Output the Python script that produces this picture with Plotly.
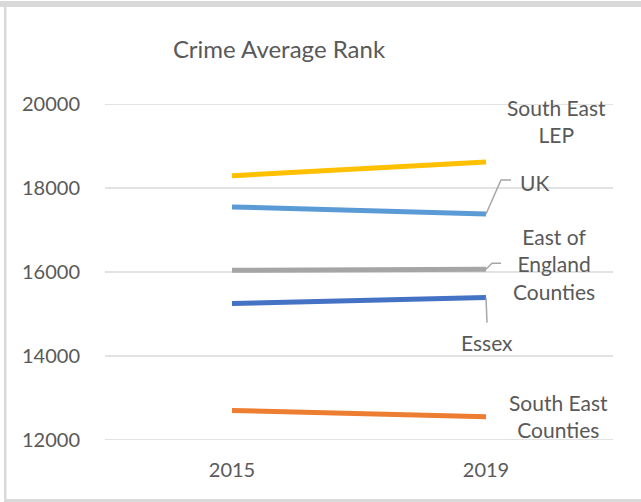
import plotly.graph_objects as go

# Crime average rank by area, 2015 vs 2019
years = ["2015", "2019"]
south_east_lep = [18290, 18620]
uk = [17550, 17380]
east_of_england = [16040, 16065]
essex = [15250, 15390]
south_east_counties = [12705, 12555]

series_names = ["South East LEP", "UK", "East of England Counties", "Essex", "South East Counties"]
series_values = [south_east_lep, uk, east_of_england, essex, south_east_counties]
series_colors = ["#FFC000", "#5B9BD5", "#A5A5A5", "#4472C4", "#ED7D31"]
label_texts = ["South East<br>LEP", "UK", "East of<br>England<br>Counties", "Essex", "South East<br>Counties"]
y_ticks = [12000, 14000, 16000, 18000, 20000]

W, H = 641, 502
L, R, T, B = 105, 28, 104, 62
FONT = "Lato"
GREY = "#595959"

fig = go.Figure()
for name, vals, col in zip(series_names, series_values, series_colors):
    fig.add_trace(go.Scatter(
        x=years, y=vals, mode="lines", name=name,
        line=dict(color=col, width=5), showlegend=False,
    ))

# data labels beside the 2019 end of each line (pixel offsets)
last = len(years) - 1
label_shift = [(70, 41), (48, 32), (68, 5), (1, -45), (72, 1)]
annotations = []
for txt, vals, (dx, dy) in zip(label_texts, series_values, label_shift):
    annotations.append(dict(
        x=last, y=vals[-1], xref="x", yref="y", text=txt,
        showarrow=False, xshift=dx, yshift=dy,
        xanchor="center", yanchor="middle", align="center",
        font=dict(family=FONT, size=21, color=GREY),
    ))

# horizontal gridlines at each y tick
shapes = [
    dict(type="line", xref="paper", yref="y", x0=0, x1=1, y0=v, y1=v,
         line=dict(color="#D9D9D9", width=1.5), layer="below")
    for v in y_ticks
]

# leader lines from line ends to their labels
leader = dict(color="#A6A6A6", width=1.5)
shapes += [
    dict(type="path", xref="x", yref="y", xsizemode="pixel", ysizemode="pixel",
         xanchor=last, yanchor=uk[-1], path="M0,0 L15,34 L25,34", line=leader),
    dict(type="path", xref="x", yref="y", xsizemode="pixel", ysizemode="pixel",
         xanchor=last, yanchor=east_of_england[-1], path="M0,0 L6,6 L15,6", line=leader),
    dict(type="path", xref="x", yref="y", xsizemode="pixel", ysizemode="pixel",
         xanchor=last, yanchor=essex[-1], path="M0,0 L1,-25", line=leader),
]

# chart frame
def px_x(p):
    return (p - L) / (W - L - R)

def px_y(p):
    return (H - B - p) / (H - T - B)

frame = "#D9D9D9"
shapes += [
    dict(type="rect", xref="paper", yref="paper", x0=px_x(0), x1=px_x(W), y0=px_y(1), y1=px_y(7),
         fillcolor=frame, line=dict(width=0), layer="below"),
    dict(type="rect", xref="paper", yref="paper", x0=px_x(4), x1=px_x(6.5), y0=px_y(7), y1=px_y(H),
         fillcolor=frame, line=dict(width=0), layer="below"),
    dict(type="rect", xref="paper", yref="paper", x0=px_x(4), x1=px_x(W), y0=px_y(499), y1=px_y(502),
         fillcolor=frame, line=dict(width=0), layer="below"),
]

fig.update_layout(
    width=W, height=H,
    margin=dict(l=L, r=R, t=T, b=B),
    paper_bgcolor="white", plot_bgcolor="white",
    title=dict(text="Crime Average Rank", x=279 / W, xanchor="center",
               y=1 - 50 / H, yanchor="middle", yref="container",
               font=dict(family=FONT, size=24, color=GREY)),
    annotations=annotations,
    shapes=shapes,
    font=dict(family=FONT, color=GREY),
)
fig.update_xaxes(
    type="category", categoryorder="array", categoryarray=years,
    range=[-0.5, len(years) - 0.5], autorange=False,
    showgrid=False, zeroline=False, showline=False,
    ticks="outside", ticklen=12, tickcolor="rgba(0,0,0,0)",
    tickfont=dict(family=FONT, size=20, color=GREY),
)
fig.update_yaxes(
    range=[12000, 20000], autorange=False, tickvals=y_ticks, tickformat="d",
    showgrid=False, zeroline=False, showline=False,
    ticks="outside", ticklen=20, tickcolor="rgba(0,0,0,0)",
    tickfont=dict(family=FONT, size=20, color=GREY),
)

fig.write_html("out.html")
